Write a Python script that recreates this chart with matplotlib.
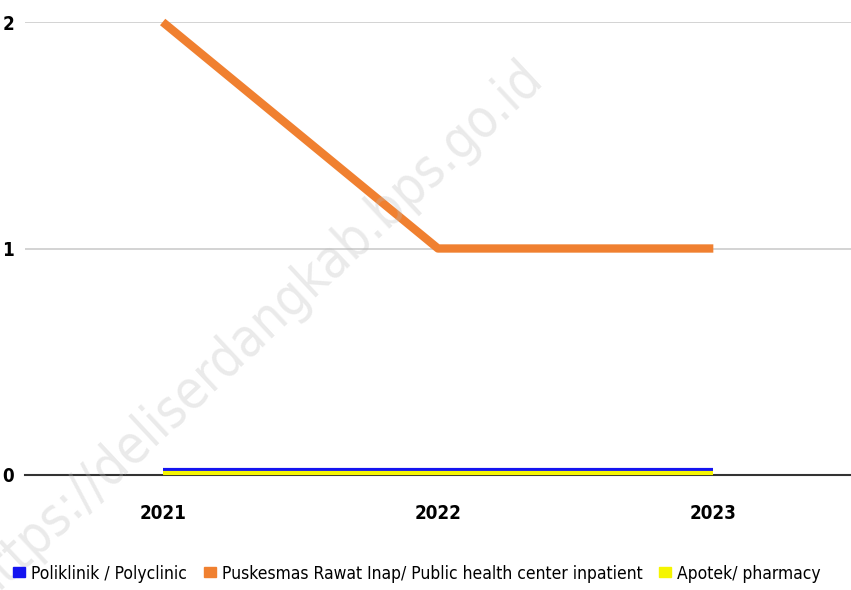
import matplotlib
matplotlib.use("Agg")
import matplotlib.pyplot as plt
import matplotlib.transforms as mtransforms
from matplotlib.patches import Patch

years = ["2021", "2022", "2023"]
poliklinik = [0, 0, 0]
puskesmas = [2, 1, 1]
apotek = [0, 0, 0]
yticks = [0, 1, 2]

series_names = ["Poliklinik / Polyclinic",
                "Puskesmas Rawat Inap/ Public health center inpatient",
                "Apotek/ pharmacy"]
colors = ["#1414f0", "#f08030", "#f5f500"]

plt.rcParams['font.family'] = ['DejaVu Sans']
plt.rcParams['font.stretch'] = 'condensed'

fig = plt.figure(figsize=(8.51, 5.90), dpi=100)
ax = fig.add_axes([25/851, (590-475)/590, 826/851, (475-22)/590])

x = list(range(len(years)))
ax.set_xlim(-0.5, len(years) - 0.5)
ax.set_ylim(0, 2)

ax.plot(x, puskesmas, color=colors[1], lw=6, solid_capstyle='butt', clip_on=False, zorder=3)

off_blue = mtransforms.offset_copy(ax.transData, fig=fig, x=0, y=5.5, units='dots')
off_yel = mtransforms.offset_copy(ax.transData, fig=fig, x=0, y=1.8, units='dots')
ax.plot(x, poliklinik, color=colors[0], lw=3, solid_capstyle='butt', transform=off_blue, clip_on=False, zorder=3)
ax.plot(x, apotek, color=colors[2], lw=3, solid_capstyle='butt', transform=off_yel, clip_on=False, zorder=3)

ax.set_yticks(yticks)
ax.set_yticklabels([str(v) for v in yticks], fontsize=13.5, fontweight='bold')
ax.set_xticks(x)
ax.set_xticklabels(years, fontsize=13.5, fontweight='bold')
ax.tick_params(axis='both', length=0)
ax.tick_params(axis='x', pad=21)
ax.tick_params(axis='y', pad=8)
ax.yaxis.grid(True, color='#cccccc', lw=1.2)
ax.set_axisbelow(True)
for s in ['top', 'right', 'left']:
    ax.spines[s].set_visible(False)
ax.spines['bottom'].set_color('#333333')
ax.spines['bottom'].set_linewidth(1.5)

handles = [Patch(color=c) for c in colors]
fig.legend(handles, series_names, loc='lower center', bbox_to_anchor=(0.49, -0.005),
           ncol=3, frameon=False, fontsize=12.5, handlelength=0.7, handleheight=0.5,
           handletextpad=0.35, columnspacing=0.95, borderaxespad=0.2)

fig.text(0.30, 0.44, "https://deliserdangkab.bps.go.id", fontsize=38, color='#bbbbbb',
         alpha=0.3, rotation=43, ha='center', va='center', zorder=0)

fig.savefig("out.png", dpi=100)
